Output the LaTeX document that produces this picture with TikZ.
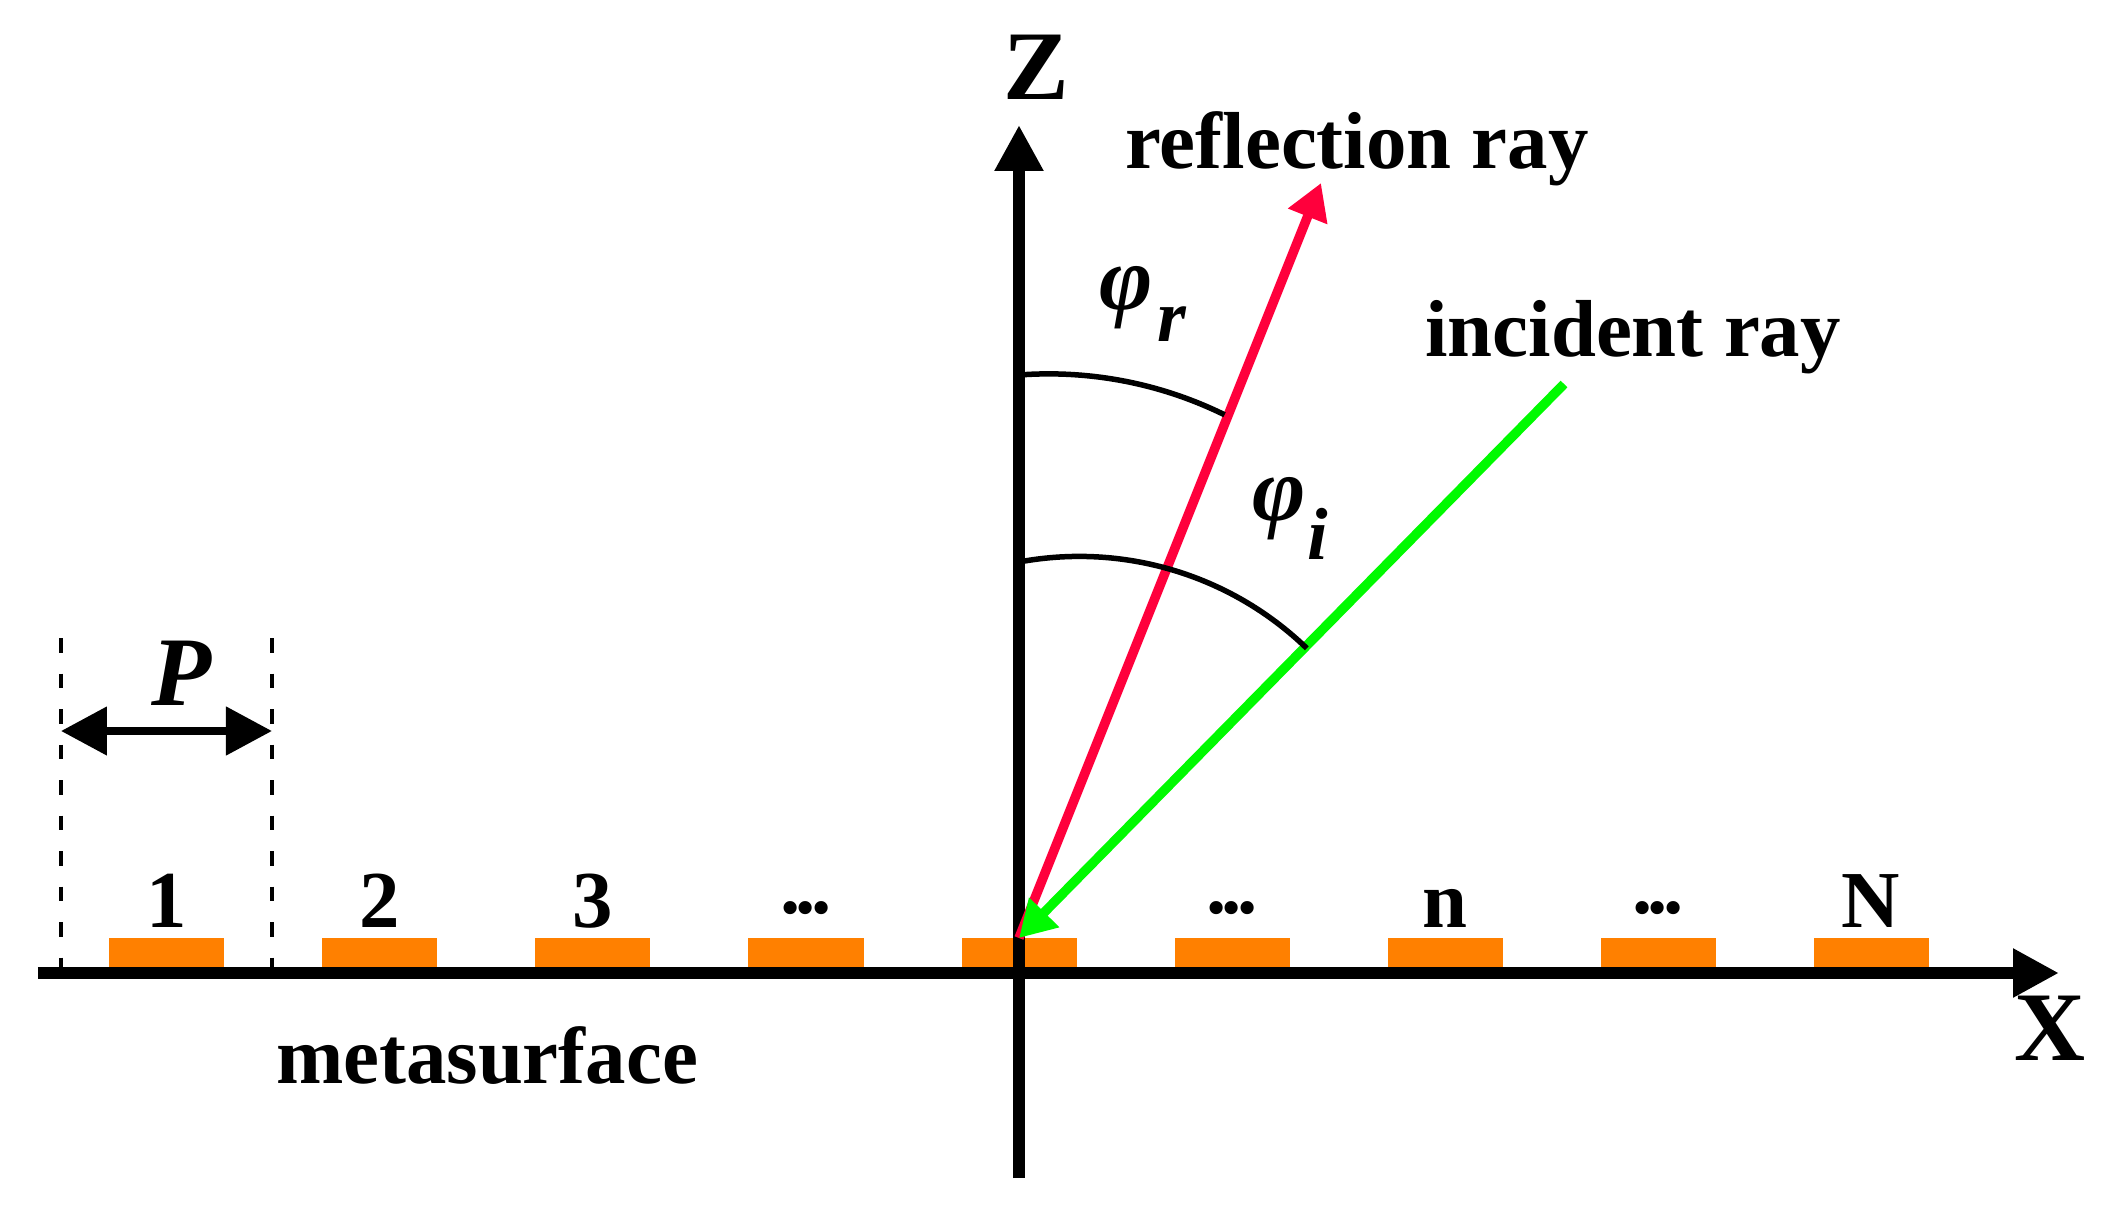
\documentclass[tikz,border=0pt]{standalone}
\usepackage{fontspec}
\setmainfont{Liberation Serif}
\usetikzlibrary{arrows.meta}
\definecolor{cellorange}{RGB}{255,128,0}
\definecolor{rayred}{RGB}{255,0,60}
\definecolor{raygreen}{RGB}{0,250,0}
\newcommand{\celldots}{\raisebox{0.14cm}{.\kern-1.3pt.\kern-1.3pt.}}

\begin{document}
\begin{tikzpicture}[
    lab/.style={font=\bfseries\fontsize{23}{27}\selectfont,inner sep=0pt},
    axlab/.style={font=\bfseries\fontsize{28}{32}\selectfont,inner sep=0pt},
    greek/.style={font=\bfseries\itshape\fontsize{26}{30}\selectfont,inner sep=0pt},
    sublab/.style={font=\bfseries\itshape\fontsize{21}{25}\selectfont,inner sep=0pt},
    axis/.style={line width=0.125cm,-{Triangle[length=0.46cm,width=0.46cm]}},
    cell/.style={fill=cellorange,inner sep=0pt,minimum width=1.15cm,minimum height=0.35cm},
    dimline/.style={line width=0.033cm,dash pattern=on 0.145cm off 0.21cm},
    anglearc/.style={line width=0.055cm},
    rayhead/.style={line width=0.095cm,-{Triangle[length=0.36cm,width=0.40cm]}}
]
\useasboundingbox (-10.19,-2.36) rectangle (10.92,9.73);

\coordinate (O) at (0,0.35);
\coordinate (xl) at (-9.81,0);
\coordinate (xr) at (10.40,0);
\coordinate (zb) at (0,-2.05);
\coordinate (zt) at (0,8.48);
\coordinate (rtip) at (3.02,7.90);
\coordinate (istart) at (5.45,5.89);

\foreach \k in {1,...,9}
    \node[cell] (c\k) at ({(\k-5)*2.13},0.175) {};
\foreach \k/\txt in {1/1,2/2,3/3,4/\celldots,6/\celldots,7/n,8/\celldots,9/N}
    \node[lab,anchor=base] (l\k) at ({(\k-5)*2.13},0.46) {\txt};

\draw[axis] (xl) -- (xr);
\draw[axis] (zb) -- (zt);
\node[axlab] (xlab) at (10.31,-0.55) {X};
\node[axlab] (zlab) at (0.17,9.06) {Z};

\coordinate (pl) at (-9.58,0.06);
\coordinate (plt) at (-9.58,3.35);
\coordinate (pr) at (-7.47,0.06);
\coordinate (prt) at (-7.47,3.35);
\draw[dimline] (plt) -- (pl);
\draw[dimline] (prt) -- (pr);
\coordinate (pa) at (-9.58,2.42);
\coordinate (pb) at (-7.47,2.42);
\draw[line width=0.08cm,{Triangle[length=0.46cm,width=0.47cm]}-{Triangle[length=0.46cm,width=0.47cm]}] (pa) -- (pb);
\node[font=\bfseries\itshape\fontsize{28}{32}\selectfont,inner sep=0pt] (plab) at (-8.37,3.0) {P};

\node[lab,anchor=base] (meta) at (-5.32,-1.10) {metasurface};

\draw[rayhead,rayred] (O) -- (rtip);
\draw[rayhead,raygreen] (istart) -- (O);
\node[lab,anchor=base] (reflab) at (3.38,8.04) {reflection ray};
\node[lab,anchor=base] (inclab) at (6.14,6.17) {incident ray};

\draw[anglearc] (0,5.98) arc[start angle=94.3,end angle=63.8,radius=3.98];
\draw[anglearc] (0,4.11) arc[start angle=100.6,end angle=46,radius=3.276];

\node[greek] (phir) at (1.07,6.75) {φ};
\node[sublab] (subr) at (1.53,6.49) {r};
\node[greek] (phii) at (2.60,4.64) {φ};
\node[sublab] (subi) at (2.99,4.39) {i};
\end{tikzpicture}
\end{document}
